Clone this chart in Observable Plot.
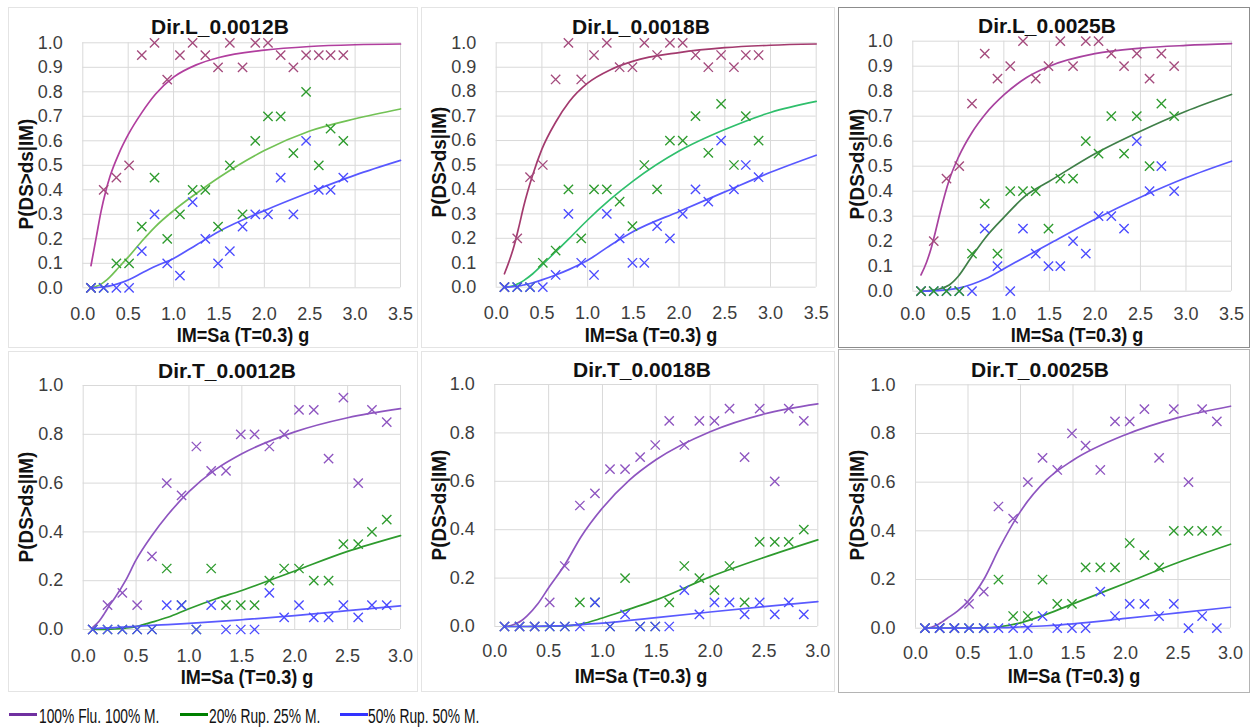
<!DOCTYPE html>
<html>
<head>
<meta charset="utf-8">
<script src="https://cdn.jsdelivr.net/npm/d3@7"></script>
<script src="https://cdn.jsdelivr.net/npm/@observablehq/plot@0.6"></script>
<style>
  body { margin: 0; background: #fff; }
  #fig { position: relative; width: 1252px; height: 728px; overflow: hidden; background: #fff;
         font-family: "Liberation Sans", Arial, sans-serif; }
  .box { position: absolute; box-sizing: border-box; border: 1px solid #e2e2e2; }
  .chart { position: absolute; }
  .title { position: absolute; font-weight: bold; font-size: 21px; line-height: 1; white-space: nowrap;
           transform: translateX(-50%); color: #111; }
  .xt { position: absolute; font-weight: bold; font-size: 21px; line-height: 0.7; white-space: nowrap;
        transform: translateX(-50%) scaleX(0.86); color: #111; }
  .yt { position: absolute; font-weight: bold; font-size: 21px; line-height: 1; white-space: nowrap;
        transform: translate(-50%, -50%) rotate(-90deg) scaleX(0.9); color: #111; }
  .sw { position: absolute; height: 3px; width: 28px; }
  .lt { position: absolute; font-size: 20px; line-height: 1; white-space: nowrap; color: #111;
        transform: scaleX(0.69); transform-origin: left center; }
</style>
</head>
<body>
<div id="fig"></div>
<script>
// Intensity levels (Sa at T=0.3 s, in g) of the analysed records
const imLevels = [0.09, 0.23, 0.37, 0.51, 0.65, 0.79, 0.93, 1.07, 1.21, 1.35, 1.49,
                  1.62, 1.76, 1.90, 2.04, 2.18, 2.32, 2.46, 2.60, 2.73, 2.87];

// Abscissae of the fitted fragility curves
const fitImL = [0.09, 0.15, 0.2, 0.25, 0.3, 0.4, 0.5, 0.65, 0.8, 1.0, 1.25, 1.5, 2.0, 2.5, 3.0, 3.5];
const fitImT = [0.09, 0.15, 0.2, 0.25, 0.3, 0.4, 0.5, 0.65, 0.8, 1.0, 1.25, 1.5, 2.0, 2.5, 3.0];

// Axis ticks
const xTicksL = [0, 0.5, 1.0, 1.5, 2.0, 2.5, 3.0, 3.5];
const xTicksT = [0, 0.5, 1.0, 1.5, 2.0, 2.5, 3.0];
const yTicksL = [0, 0.1, 0.2, 0.3, 0.4, 0.5, 0.6, 0.7, 0.8, 0.9, 1.0];
const yTicksT = [0, 0.2, 0.4, 0.6, 0.8, 1.0];

// Damage-state labels
const seriesNames = ["100% Flu. 100% M.", "20% Rup. 25% M.", "50% Rup. 50% M."];

// Dir.L_0.0012B
const l0012Flu   = [0, 0.40, 0.45, 0.50, 0.95, 1.00, 0.85, 0.95, 1.00, 0.95, 0.90, 1.00, 0.90, 1.00, 1.00, 0.95, 0.90, 0.95, 0.95, 0.95, 0.95];
const l0012Rup25 = [0, 0, 0.10, 0.10, 0.25, 0.45, 0.20, 0.30, 0.40, 0.40, 0.25, 0.50, 0.30, 0.60, 0.70, 0.70, 0.55, 0.80, 0.50, 0.65, 0.60];
const l0012Rup50 = [0, 0, 0, 0, 0.15, 0.30, 0.10, 0.05, 0.35, 0.20, 0.10, 0.15, 0.25, 0.30, 0.30, 0.45, 0.30, 0.60, 0.40, 0.40, 0.45];
const l0012FluFit   = [0.09, 0.21, 0.31, 0.39, 0.455, 0.55, 0.625, 0.715, 0.79, 0.86, 0.91, 0.94, 0.97, 0.985, 0.992, 0.995];
const l0012Rup25Fit = [0, 0.006, 0.015, 0.028, 0.045, 0.085, 0.125, 0.19, 0.25, 0.315, 0.385, 0.45, 0.56, 0.64, 0.69, 0.73];
const l0012Rup50Fit = [0, 0.001, 0.003, 0.005, 0.008, 0.018, 0.032, 0.06, 0.088, 0.12, 0.175, 0.23, 0.315, 0.39, 0.46, 0.52];

// Dir.L_0.0018B
const l0018Flu   = [0, 0.20, 0.45, 0.50, 0.85, 1.00, 0.85, 0.95, 1.00, 0.90, 0.90, 1.00, 0.95, 1.00, 1.00, 0.95, 0.90, 0.95, 0.90, 0.95, 0.95];
const l0018Rup25 = [0, 0, 0, 0.10, 0.15, 0.40, 0.20, 0.40, 0.40, 0.35, 0.25, 0.50, 0.40, 0.60, 0.60, 0.70, 0.55, 0.75, 0.50, 0.70, 0.60];
const l0018Rup50 = [0, 0, 0, 0, 0.05, 0.30, 0.10, 0.05, 0.30, 0.20, 0.10, 0.10, 0.25, 0.20, 0.30, 0.40, 0.35, 0.60, 0.40, 0.50, 0.45];
const l0018FluFit   = [0.055, 0.115, 0.175, 0.25, 0.33, 0.46, 0.565, 0.675, 0.76, 0.835, 0.89, 0.925, 0.96, 0.98, 0.99, 0.995];
const l0018Rup25Fit = [0, 0.003, 0.008, 0.016, 0.027, 0.055, 0.09, 0.145, 0.20, 0.275, 0.36, 0.435, 0.557, 0.645, 0.715, 0.76];
const l0018Rup50Fit = [0, 0.001, 0.003, 0.005, 0.009, 0.018, 0.03, 0.05, 0.073, 0.11, 0.172, 0.228, 0.31, 0.39, 0.47, 0.54];

// Dir.L_0.0025B
const l0025Flu   = [0, 0.20, 0.45, 0.50, 0.75, 0.95, 0.85, 0.90, 1.00, 0.85, 0.90, 1.00, 0.90, 1.00, 1.00, 0.95, 0.90, 0.95, 0.85, 0.95, 0.90];
const l0025Rup25 = [0, 0, 0, 0, 0.15, 0.35, 0.15, 0.40, 0.40, 0.40, 0.25, 0.45, 0.45, 0.60, 0.55, 0.70, 0.55, 0.70, 0.50, 0.75, 0.70];
const l0025Rup50 = [0, 0, 0, 0, 0, 0.25, 0.10, 0, 0.25, 0.15, 0.10, 0.10, 0.20, 0.15, 0.30, 0.30, 0.25, 0.60, 0.40, 0.50, 0.40];
const l0025FluFit   = [0.065, 0.115, 0.17, 0.24, 0.315, 0.445, 0.535, 0.635, 0.71, 0.785, 0.855, 0.90, 0.95, 0.972, 0.983, 0.99];
const l0025Rup25Fit = [0, 0.001, 0.003, 0.006, 0.01, 0.025, 0.06, 0.14, 0.215, 0.295, 0.385, 0.44, 0.55, 0.64, 0.72, 0.787];
const l0025Rup50Fit = [0, 0, 0.001, 0.002, 0.003, 0.006, 0.012, 0.028, 0.05, 0.09, 0.14, 0.19, 0.288, 0.376, 0.454, 0.52];

// Dir.T_0.0012B
const t0012Flu   = [0, 0.10, 0.15, 0.10, 0.30, 0.60, 0.55, 0.75, 0.65, 0.65, 0.80, 0.80, 0.75, 0.80, 0.90, 0.90, 0.70, 0.95, 0.60, 0.90, 0.85];
const t0012Rup25 = [0, 0, 0, 0, 0, 0.25, 0.10, 0, 0.25, 0.10, 0.10, 0.10, 0.20, 0.25, 0.25, 0.20, 0.20, 0.35, 0.35, 0.40, 0.45];
const t0012Rup50 = [0, 0, 0, 0, 0, 0.10, 0.10, 0, 0.10, 0, 0, 0, 0.15, 0.05, 0.10, 0.05, 0.05, 0.10, 0.05, 0.10, 0.10];
const t0012FluFit   = [0.009, 0.034, 0.065, 0.10, 0.13, 0.20, 0.285, 0.385, 0.47, 0.565, 0.655, 0.72, 0.81, 0.868, 0.905];
const t0012Rup25Fit = [0, 0, 0, 0.001, 0.002, 0.006, 0.012, 0.03, 0.05, 0.085, 0.125, 0.16, 0.24, 0.32, 0.385];
const t0012Rup50Fit = [0.004, 0.005, 0.006, 0.007, 0.008, 0.011, 0.013, 0.017, 0.02, 0.025, 0.032, 0.04, 0.057, 0.077, 0.097];

// Dir.T_0.0018B
const t0018Flu   = [0, 0, 0, 0.10, 0.25, 0.50, 0.55, 0.65, 0.65, 0.70, 0.75, 0.85, 0.75, 0.85, 0.85, 0.90, 0.70, 0.90, 0.60, 0.90, 0.85];
const t0018Rup25 = [0, 0, 0, 0, 0, 0.10, 0.10, 0, 0.20, 0, 0, 0.10, 0.25, 0.20, 0.15, 0.25, 0.10, 0.35, 0.35, 0.35, 0.40];
const t0018Rup50 = [0, 0, 0, 0, 0, 0, 0.10, 0, 0.05, 0, 0, 0, 0.15, 0.05, 0.10, 0.10, 0.05, 0.10, 0.05, 0.10, 0.05];
const t0018FluFit   = [0, 0.004, 0.012, 0.025, 0.044, 0.094, 0.16, 0.255, 0.37, 0.49, 0.605, 0.69, 0.805, 0.878, 0.92];
const t0018Rup25Fit = [0, 0, 0, 0, 0, 0, 0.001, 0.002, 0.01, 0.035, 0.072, 0.11, 0.205, 0.285, 0.358];
const t0018Rup50Fit = [0, 0, 0, 0, 0, 0.001, 0.002, 0.004, 0.008, 0.014, 0.025, 0.037, 0.06, 0.082, 0.103];

// Dir.T_0.0025B
const t0025Flu   = [0, 0, 0, 0.10, 0.15, 0.50, 0.45, 0.60, 0.70, 0.65, 0.80, 0.75, 0.65, 0.85, 0.85, 0.90, 0.70, 0.90, 0.60, 0.90, 0.85];
const t0025Rup25 = [0, 0, 0, 0, 0, 0.20, 0.05, 0.05, 0.20, 0.10, 0.10, 0.25, 0.25, 0.25, 0.35, 0.30, 0.25, 0.40, 0.40, 0.40, 0.40];
const t0025Rup50 = [0, 0, 0, 0, 0, 0, 0, 0, 0.05, 0, 0, 0, 0.15, 0.05, 0.10, 0.10, 0.05, 0.10, 0, 0.05, 0];
const t0025FluFit   = [0, 0.004, 0.012, 0.025, 0.04, 0.07, 0.11, 0.20, 0.33, 0.48, 0.61, 0.69, 0.795, 0.865, 0.912];
const t0025Rup25Fit = [0, 0, 0, 0, 0, 0, 0, 0.002, 0.006, 0.022, 0.058, 0.10, 0.185, 0.27, 0.345];
const t0025Rup50Fit = [0, 0, 0, 0, 0, 0, 0, 0.001, 0.002, 0.005, 0.01, 0.018, 0.04, 0.063, 0.086];

// Colours
const markerColorsL = ["#a44b7d", "#2e9b2e", "#4b4bff"];
const markerColorsT = ["#8e55c0", "#2e9b2e", "#4b4bff"];
const legendColors  = ["#7030a0", "#008000", "#3333ff"];

// Panel layout: box position, plot margins and text anchors
const panels = [
  { title: "Dir.L_0.0012B", dir: "L", pts: [l0012Flu, l0012Rup25, l0012Rup50], fits: [l0012FluFit, l0012Rup25Fit, l0012Rup50Fit],
    curveColors: ["#b13e9e", "#72c255", "#5858ff"], order: [0, 1, 2],
    left: 8, top: 7, w: 410, h: 341, mL: 74.3, mR: 18, mT: 35.3, mB: 60.7, padX: 19,
    titleX: 220, titleBase: 34, xtX: 243, xtBase: 343, ytX: 25, ytY: 174, border: "#e4e4e4" },
  { title: "Dir.L_0.0018B", dir: "L", pts: [l0018Flu, l0018Rup25, l0018Rup50], fits: [l0018FluFit, l0018Rup25Fit, l0018Rup50Fit],
    curveColors: ["#a33a6e", "#2fbf6c", "#5858ff"], order: [0, 1, 2],
    left: 421, top: 7, w: 414, h: 341, mL: 74.7, mR: 19.3, mT: 35.3, mB: 61.3, padX: 19,
    titleX: 641, titleBase: 34, xtX: 651, xtBase: 343, ytX: 438, ytY: 162, border: "#e4e4e4" },
  { title: "Dir.L_0.0025B", dir: "L", pts: [l0025Flu, l0025Rup25, l0025Rup50], fits: [l0025FluFit, l0025Rup25Fit, l0025Rup50Fit],
    curveColors: ["#a8429f", "#3f7f48", "#5858ff"], order: [0, 2, 1],
    left: 838, top: 7, w: 412, h: 341, mL: 74.3, mR: 19, mT: 33.7, mB: 57.3, padX: 16,
    titleX: 1047, titleBase: 33, xtX: 1077, xtBase: 343, ytX: 856, ytY: 164, border: "#8c8c8c" },
  { title: "Dir.T_0.0012B", dir: "T", pts: [t0012Flu, t0012Rup25, t0012Rup50], fits: [t0012FluFit, t0012Rup25Fit, t0012Rup50Fit],
    curveColors: ["#8e55c0", "#2e9b2e", "#5a5aff"], order: [0, 1, 2],
    left: 8, top: 351, w: 410, h: 341, mL: 74.7, mR: 18, mT: 34, mB: 63, padX: 19.5,
    titleX: 227, titleBase: 378, xtX: 247, xtBase: 684.5, ytX: 25, ytY: 507, border: "#e4e4e4" },
  { title: "Dir.T_0.0018B", dir: "T", pts: [t0018Flu, t0018Rup25, t0018Rup50], fits: [t0018FluFit, t0018Rup25Fit, t0018Rup50Fit],
    curveColors: ["#8e55c0", "#2e9b2e", "#5a5aff"], order: [0, 1, 2],
    left: 421, top: 351, w: 414, h: 341, mL: 73.3, mR: 17.7, mT: 33, mB: 66, padX: 18,
    titleX: 642, titleBase: 377, xtX: 641, xtBase: 684, ytX: 438, ytY: 505, border: "#e4e4e4" },
  { title: "Dir.T_0.0025B", dir: "T", pts: [t0025Flu, t0025Rup25, t0025Rup50], fits: [t0025FluFit, t0025Rup25Fit, t0025Rup50Fit],
    curveColors: ["#8e55c0", "#2e9b2e", "#5a5aff"], order: [0, 1, 2],
    left: 838, top: 349, w: 412, h: 344, mL: 77, mR: 20, mT: 35.3, mB: 65.3, padX: 18,
    titleX: 1040, titleBase: 377, xtX: 1074, xtBase: 683.5, ytX: 856, ytY: 505, border: "#b4b4b4" }
];

const fig = document.getElementById("fig");
const fmt = d3.format(".1f");

function addDiv(cls, text, styles) {
  const el = document.createElement("div");
  el.className = cls;
  if (text != null) el.textContent = text;
  Object.assign(el.style, styles);
  fig.appendChild(el);
  return el;
}

for (const p of panels) {
  const isL = p.dir === "L";
  const xTicks = isL ? xTicksL : xTicksT;
  const yTicks = isL ? yTicksL : yTicksT;
  const fitIm = isL ? fitImL : fitImT;
  const markerColors = isL ? markerColorsL : markerColorsT;

  addDiv("box", null, { left: p.left + "px", top: p.top + "px", width: p.w + "px", height: p.h + "px",
                        borderColor: p.border });

  const curveMarks = p.fits.map((vals, s) =>
    Plot.line(fitIm.map((x, i) => ({ x, y: vals[i] })),
      { x: "x", y: "y", stroke: p.curveColors[s], strokeWidth: 1.7, curve: "monotone-x" }));

  const dotMarks = p.order.map(s =>
    Plot.dot(imLevels.map((x, i) => ({ x, y: p.pts[s][i], series: seriesNames[s] })),
      { x: "x", y: "y", symbol: "times", r: 4.3, stroke: markerColors[s], strokeWidth: 1.35 }));

  const chart = Plot.plot({
    width: p.w,
    height: p.h,
    marginLeft: p.mL,
    marginRight: p.mR,
    marginTop: p.mT,
    marginBottom: p.mB,
    style: { fontFamily: '"Liberation Sans", Arial, sans-serif', fontSize: "18px", color: "#3d3d3d",
             background: "transparent", overflow: "visible" },
    x: { domain: [0, xTicks[xTicks.length - 1]] },
    y: { domain: [0, 1] },
    marks: [
      Plot.gridX(xTicks, { stroke: "#d9d9d9", strokeOpacity: 1, strokeWidth: 1 }),
      Plot.gridY(yTicks, { stroke: "#d9d9d9", strokeOpacity: 1, strokeWidth: 1 }),
      Plot.axisX(xTicks, { tickFormat: fmt, tickSize: 0, tickPadding: p.padX, fontSize: 18, label: null, fill: "#3d3d3d" }),
      Plot.axisY(yTicks, { tickFormat: fmt, tickSize: 0, tickPadding: 20, fontSize: 18, label: null, fill: "#3d3d3d" }),
      ...curveMarks,
      ...dotMarks
    ]
  });
  chart.classList.add("chart");
  chart.style.left = p.left + "px";
  chart.style.top = p.top + "px";
  fig.appendChild(chart);

  addDiv("title", p.title, { left: p.titleX + "px", top: (p.titleBase - 0.85 * 21) + "px" });
  addDiv("xt", "IM=Sa (T=0.3) g", { left: p.xtX + "px", top: (p.xtBase - 0.6965 * 21) + "px" });
  addDiv("yt", "P(DS>ds|IM)", { left: p.ytX + "px", top: p.ytY + "px" });
}

// Legend
const legendSwatchX = [9, 180, 340];
const legendTextX = [39, 209, 368];
seriesNames.forEach((name, i) => {
  addDiv("sw", null, { left: legendSwatchX[i] + "px", top: "712.5px", background: legendColors[i] });
  addDiv("lt", name, { left: legendTextX[i] + "px", top: (723 - 0.85 * 20) + "px" });
});
</script>
</body>
</html>
